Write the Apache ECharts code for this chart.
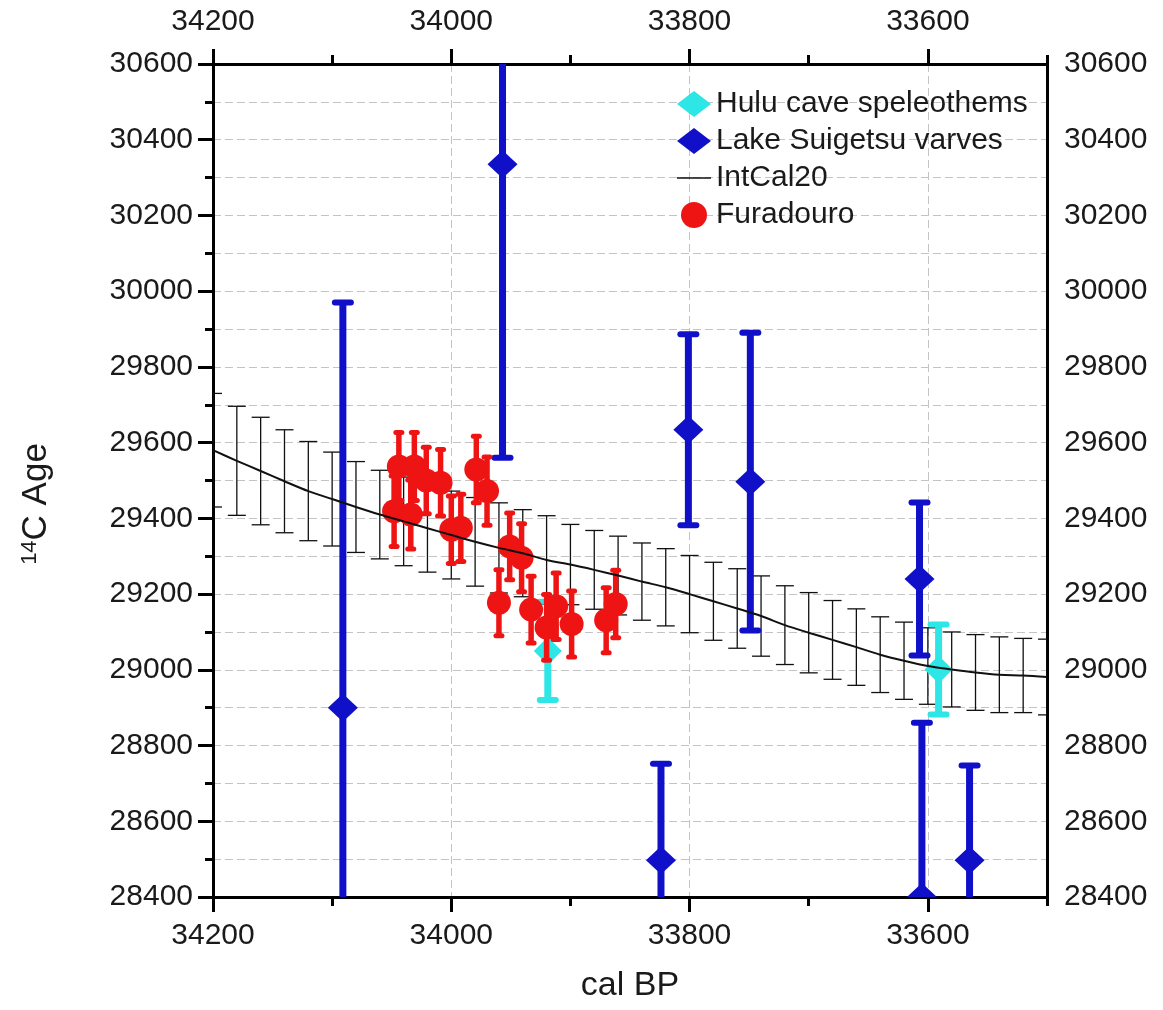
<!DOCTYPE html>
<html>
<head>
<meta charset="utf-8">
<script src="https://cdn.jsdelivr.net/npm/echarts@6/dist/echarts.min.js"></script>
<style>
  html, body { margin: 0; padding: 0; background: #ffffff; }
  #chart { width: 1163px; height: 1010px; }
</style>
</head>
<body>
<div id="chart"></div>
<script>
// IntCal20 calibration curve: calendar age, 14C age and 1-sigma
const intcalYears = [34200, 34180, 34160, 34140, 34120, 34100, 34080, 34060, 34040, 34020,
                     34000, 33980, 33960, 33940, 33920, 33900, 33880, 33860, 33840, 33820,
                     33800, 33780, 33760, 33740, 33720, 33700, 33680, 33660, 33640, 33620,
                     33600, 33580, 33560, 33540, 33520, 33500];
const intcalAge = [29580, 29552, 29525, 29498, 29472, 29451, 29430, 29410, 29392, 29374,
                   29356, 29338, 29322, 29308, 29290, 29278, 29264, 29249, 29233, 29218,
                   29200, 29181, 29162, 29142, 29118, 29098, 29079, 29060, 29040, 29024,
                   29010, 29001, 28993, 28987, 28985, 28981];
const intcalSigma = [150, 144, 142, 136, 131, 124, 120, 117, 117, 116,
                     116, 117, 119, 115, 117, 106, 104, 104, 102, 102,
                     102, 103, 105, 106, 104, 106, 104, 101, 100, 102,
                     101, 99, 100, 100, 98, 100];

// Hulu cave speleothems
const huluYears = [33919, 33591];
const huluAge = [29050, 29001];
const huluSigma = [130, 119];

// Lake Suigetsu varves
const suigetsuYears = [34091, 33957, 33824, 33801, 33749, 33607, 33605, 33565];
const suigetsuAge = [28900, 30335, 28497, 29634, 29497, 29240, 28400, 28497];
const suigetsuSigma = [1070, 775, 255, 252, 393, 202, 460, 250];

// Furadouro samples
const furadouroYears = [34048, 34044, 34034, 34031, 34021, 34009, 34000, 33992, 33979, 33970,
                        33960, 33951, 33941, 33933, 33920, 33912, 33899, 33870, 33862];
const furadouroAge = [29419, 29537, 29410, 29537, 29500, 29494, 29370, 29375, 29529, 29472,
                      29177, 29326, 29296, 29159, 29112, 29168, 29121, 29131, 29174];
const furadouroSigma = [93, 90, 91, 90, 88, 88, 89, 89, 88, 90,
                        87, 88, 90, 88, 87, 88, 87, 86, 89];

// Axis ticks
const xMajorTicks = [34200, 34000, 33800, 33600];
const xMinorTicks = [34100, 33900, 33700, 33500];

const FONT = "'Liberation Sans', Arial, sans-serif";
const TEXT_COLOR = '#1a1a1a';
const BLUE = '#1010C8';
const CYAN = '#2EE6E6';
const RED = '#EE1414';

function triples(xs, ys, ss) {
  return xs.map((x, i) => [x, ys[i], ss[i]]);
}

// Vertical error bar with end caps and an optional marker at the centre
function errorBarRenderer(cfg) {
  return function (params, api) {
    const x = api.value(0), y = api.value(1), s = api.value(2);
    const c = api.coord([x, y]);
    const hi = api.coord([x, y + s]);
    const lo = api.coord([x, y - s]);
    const capStyle = { stroke: cfg.color, lineWidth: cfg.capWidth, lineCap: cfg.lineCap };
    const children = [
      { type: 'line', shape: { x1: c[0], y1: hi[1], x2: c[0], y2: lo[1] },
        style: { stroke: cfg.color, lineWidth: cfg.barWidth } },
      { type: 'line', shape: { x1: c[0] - cfg.cap, y1: hi[1], x2: c[0] + cfg.cap, y2: hi[1] }, style: capStyle },
      { type: 'line', shape: { x1: c[0] - cfg.cap, y1: lo[1], x2: c[0] + cfg.cap, y2: lo[1] }, style: capStyle }
    ];
    if (cfg.marker === 'diamond') {
      const w = cfg.markerW, h = cfg.markerH;
      children.push({ type: 'polygon',
        shape: { points: [[c[0], c[1] - h], [c[0] + w, c[1]], [c[0], c[1] + h], [c[0] - w, c[1]]] },
        style: { fill: cfg.color } });
    } else if (cfg.marker === 'circle') {
      children.push({ type: 'circle', shape: { cx: c[0], cy: c[1], r: cfg.markerW },
        style: { fill: cfg.color } });
    }
    return { type: 'group', children: children };
  };
}

const plainNumber = (v) => String(v);
const gridLine = { show: true, lineStyle: { color: '#c4c4c4', width: 1, type: [8, 4] } };
const axisLineStyle = { show: true, onZero: false, lineStyle: { color: '#000', width: 3 } };
const tickLabel = { fontFamily: FONT, fontSize: 30, color: TEXT_COLOR, formatter: plainNumber };

function xAxisCfg(position, ticks, length, withLabels, margin) {
  return {
    type: 'value', position: position, min: 33500, max: 34200, interval: 100, inverse: true,
    axisLine: withLabels ? axisLineStyle : { show: false, onZero: false },
    axisTick: { show: true, customValues: ticks, length: length, lineStyle: { color: '#000', width: 3 } },
    axisLabel: withLabels ? Object.assign({ show: true, customValues: ticks, margin: margin }, tickLabel) : { show: false },
    splitLine: { show: false }
  };
}

const xBottom = xAxisCfg('bottom', xMajorTicks, 15, true, 24);
xBottom.splitLine = gridLine;
xBottom.name = 'cal BP';
xBottom.nameLocation = 'middle';
xBottom.nameGap = 72;
xBottom.nameTextStyle = { fontFamily: FONT, fontSize: 34, color: TEXT_COLOR };

const chart = echarts.init(document.getElementById('chart'), null, { renderer: 'canvas' });

chart.setOption({
  backgroundColor: '#ffffff',
  animation: false,
  grid: { left: 213, right: 116, top: 64, bottom: 113, containLabel: false },
  xAxis: [
    xBottom,
    xAxisCfg('bottom', xMinorTicks, 9, false),
    xAxisCfg('top', xMajorTicks, 15, true, 27),
    xAxisCfg('top', xMinorTicks, 9, false)
  ],
  yAxis: [
    {
      type: 'value', position: 'left', min: 28400, max: 30600, interval: 200,
      axisLine: axisLineStyle,
      axisTick: { show: true, length: 15, lineStyle: { color: '#000', width: 3 } },
      minorTick: { show: true, splitNumber: 2, length: 8, lineStyle: { color: '#000', width: 3 } },
      axisLabel: Object.assign({ margin: 20 }, tickLabel),
      splitLine: gridLine,
      minorSplitLine: gridLine
    },
    {
      type: 'value', position: 'right', min: 28400, max: 30600, interval: 200,
      axisLine: axisLineStyle,
      axisTick: { show: false },
      axisLabel: Object.assign({ margin: 17 }, tickLabel),
      splitLine: { show: false }
    }
  ],
  legend: {
    left: 677, top: 89, orient: 'vertical', padding: 0,
    itemWidth: 34, itemHeight: 26, itemGap: 7,
    textStyle: { fontFamily: FONT, fontSize: 30, color: TEXT_COLOR, lineHeight: 28 },
    data: [
      { name: 'Hulu cave speleothems', icon: 'diamond' },
      { name: 'Lake Suigetsu varves', icon: 'diamond' },
      { name: 'IntCal20', icon: 'path://M0,0 L40,0 L40,2 L0,2 Z' },
      { name: 'Furadouro', icon: 'circle' }
    ]
  },
  graphic: [
    {
      type: 'text', x: 36, y: 504, rotation: Math.PI / 2,
      style: {
        text: '{s|14}{n|C Age}',
        align: 'center', verticalAlign: 'middle',
        fill: TEXT_COLOR,
        rich: {
          s: { fontFamily: FONT, fontSize: 22, verticalAlign: 'top', fill: TEXT_COLOR },
          n: { fontFamily: FONT, fontSize: 35, fill: TEXT_COLOR }
        }
      }
    }
  ],
  series: [
    {
      name: 'IntCal20 1σ', type: 'custom', xAxisIndex: 0, yAxisIndex: 0, clip: true,
      itemStyle: { color: '#000' },
      renderItem: errorBarRenderer({ color: '#111', barWidth: 1.3, cap: 9, capWidth: 1.3, lineCap: 'butt' }),
      encode: { x: 0, y: 1 },
      data: triples(intcalYears, intcalAge, intcalSigma)
    },
    {
      name: 'IntCal20', type: 'line', xAxisIndex: 0, yAxisIndex: 0,
      showSymbol: false, symbol: 'none', smooth: 0.3,
      lineStyle: { color: '#111', width: 2 },
      itemStyle: { color: '#111' },
      data: intcalYears.map((x, i) => [x, intcalAge[i]])
    },
    {
      name: 'Lake Suigetsu varves', type: 'custom', xAxisIndex: 0, yAxisIndex: 0, clip: true,
      itemStyle: { color: BLUE },
      renderItem: errorBarRenderer({ color: BLUE, barWidth: 7, cap: 8, capWidth: 6, lineCap: 'round',
                                     marker: 'diamond', markerW: 15, markerH: 14 }),
      encode: { x: 0, y: 1 },
      data: triples(suigetsuYears, suigetsuAge, suigetsuSigma)
    },
    {
      name: 'Hulu cave speleothems', type: 'custom', xAxisIndex: 0, yAxisIndex: 0, clip: true,
      itemStyle: { color: CYAN },
      renderItem: errorBarRenderer({ color: CYAN, barWidth: 7, cap: 8, capWidth: 6, lineCap: 'round',
                                     marker: 'diamond', markerW: 14, markerH: 14 }),
      encode: { x: 0, y: 1 },
      data: triples(huluYears, huluAge, huluSigma)
    },
    {
      name: 'Furadouro', type: 'custom', xAxisIndex: 0, yAxisIndex: 0, clip: true,
      itemStyle: { color: RED },
      renderItem: errorBarRenderer({ color: RED, barWidth: 5.5, cap: 3, capWidth: 5, lineCap: 'round',
                                     marker: 'circle', markerW: 12 }),
      encode: { x: 0, y: 1 },
      data: triples(furadouroYears, furadouroAge, furadouroSigma)
    }
  ]
});
</script>
</body>
</html>
